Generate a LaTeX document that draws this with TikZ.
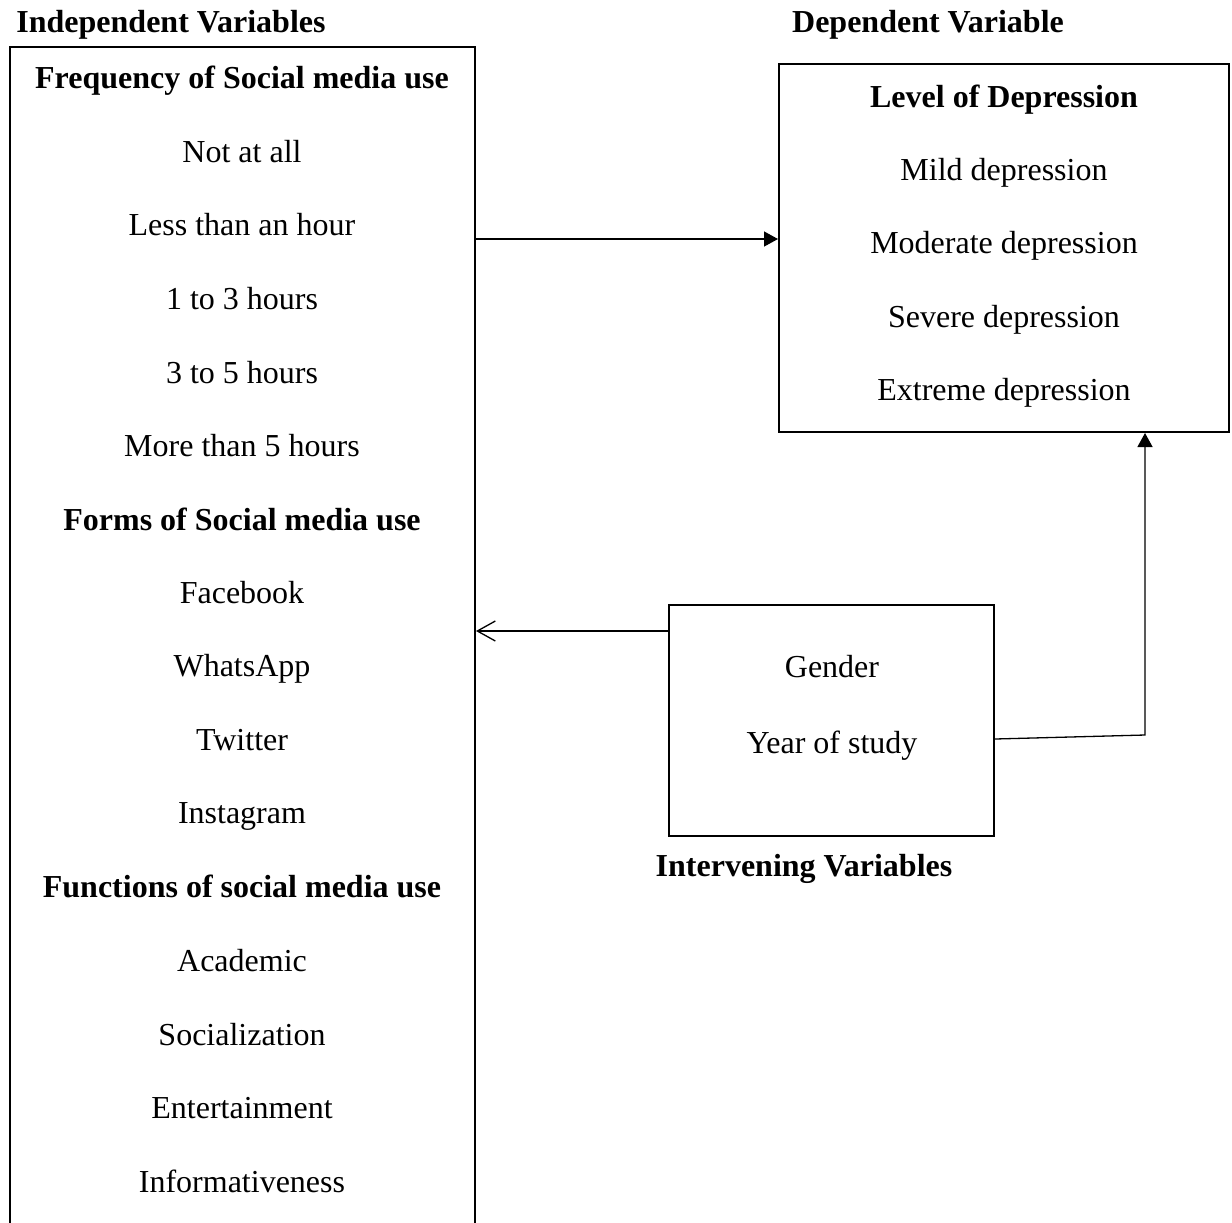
\documentclass[tikz,border=0pt]{standalone}
\usepackage{fontspec}
\setmainfont{Liberation Serif}
\usepackage{tikz}
\usetikzlibrary{arrows.meta,fit}
\tikzset{
  panel/.style={
    draw=black,
    line width=1pt,
    fill=none,
    inner sep=0pt
  },
  item/.style={
    anchor=base,
    inner sep=0pt,
    font=\fontsize{16}{19}\selectfont
  },
  heading/.style={item, font=\fontsize{16}{19}\selectfont\bfseries},
  caption/.style={heading},
  link/.style={line width=0.65pt, draw=black, -{Triangle[length=7pt, width=7.5pt]}},
  backlink/.style={line width=0.65pt, draw=black, -{Straight Barb[length=9pt, width=10pt, line width=0.65pt]}}
}

\begin{document}
\begin{tikzpicture}[x=0.5pt,y=-0.5pt]
\useasboundingbox (0,0) rectangle (1232,1222);
\fill[white] (0,0) rectangle (1232,1222);

% headings
\node[caption] (indephead) at (171,32) {Independent Variables};
\node[caption] (dephead) at (928,32) {Dependent Variable};
\node[caption] (interhead) at (804,876) {Intervening Variables};

% boxes
\node[panel, fit={(10,47) (475,1260)}] (indep) {};
\node[panel, fit={(779,64) (1229,432)}] (dep) {};
\node[panel, fit={(669,605) (994,836)}] (inter) {};

% independent variables
\node[heading] (freq) at (242,88) {Frequency of Social media use};
\node[item] (none) at (242,162) {Not at all};
\node[item] (lesshour) at (242,235.5) {Less than an hour};
\node[item] (onethree) at (242,309) {1 to 3 hours};
\node[item] (threefive) at (242,383) {3 to 5 hours};
\node[item] (morefive) at (242,456) {More than 5 hours};
\node[heading] (forms) at (242,530) {Forms of Social media use};
\node[item] (facebook) at (242,603) {Facebook};
\node[item] (whatsapp) at (242,676) {WhatsApp};
\node[item] (twitter) at (242,750) {Twitter};
\node[item] (instagram) at (242,823) {Instagram};
\node[heading] (funcs) at (242,897) {Functions of social media use};
\node[item] (academic) at (242,971) {Academic};
\node[item] (social) at (242,1045) {Socialization};
\node[item] (entertain) at (242,1118) {Entertainment};
\node[item] (inform) at (242,1192) {Informativeness};

% dependent variable
\node[heading] (level) at (1004,107) {Level of Depression};
\node[item] (mild) at (1004,180) {Mild depression};
\node[item] (moderate) at (1004,253) {Moderate depression};
\node[item] (severe) at (1004,327) {Severe depression};
\node[item] (extreme) at (1004,400) {Extreme depression};

% intervening variables
\node[item] (gender) at (832,677) {Gender};
\node[item] (year) at (832,753) {Year of study};

% connectors
\coordinate (freqlink) at (0,239);
\coordinate (interlink) at (0,631);
\coordinate (bend) at (1145,735);
\draw[link] (indep.east |- freqlink) -- (dep.west |- freqlink);
\draw[backlink] (inter.west |- interlink) -- (indep.east |- interlink);
\draw[link] (inter.east |- 0,739) -- (bend) -- (bend |- dep.south);

\end{tikzpicture}
\end{document}
